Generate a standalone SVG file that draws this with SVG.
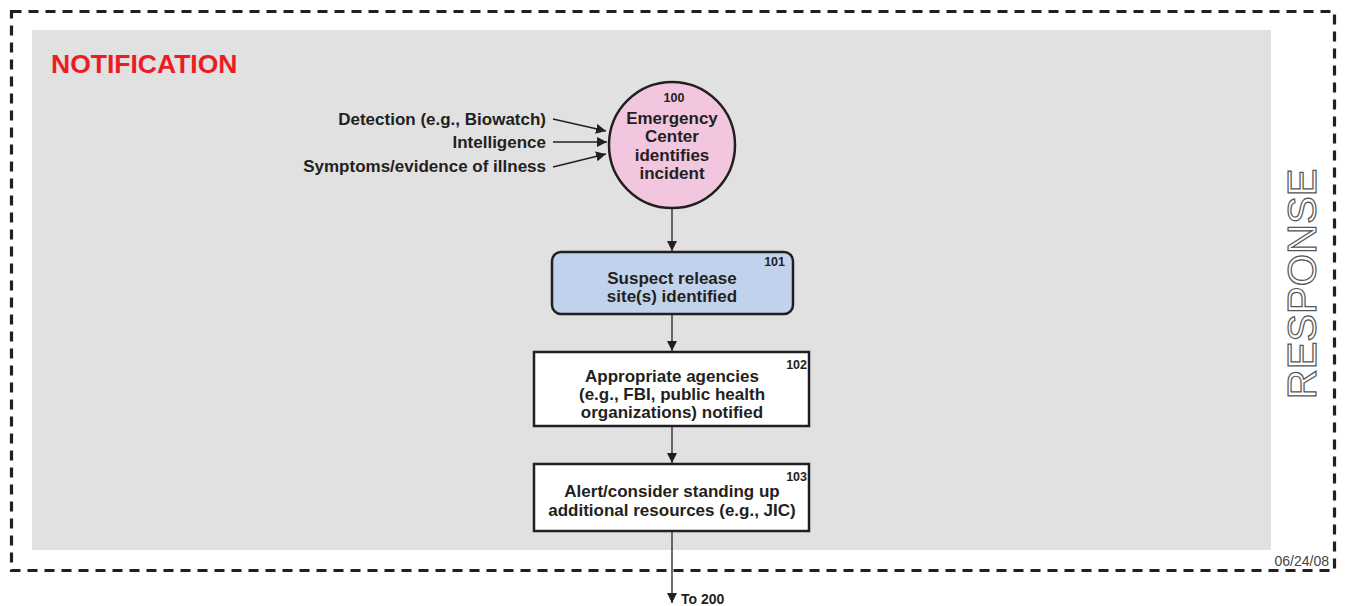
<svg xmlns="http://www.w3.org/2000/svg" width="1345" height="606" viewBox="0 0 1345 606">
<defs>
<marker id="ah" viewBox="0 0 10 10" refX="10" refY="5" markerWidth="10" markerHeight="10" markerUnits="userSpaceOnUse" orient="auto"><path d="M0,0 L10,5 L0,10 Z" fill="#231f20"/></marker>
<style>
.t{font-family:"Liberation Sans",Arial,sans-serif;font-weight:bold;fill:#231f20;font-size:17px}
.n{font-family:"Liberation Sans",Arial,sans-serif;font-weight:bold;fill:#231f20;font-size:12.5px}
.c{stroke:#231f20;stroke-width:1.3;fill:none}
.box{stroke:#231f20;stroke-width:2.5}
</style>
</defs>
<rect width="1345" height="606" fill="#fff"/>
<rect x="11.5" y="11.5" width="1323" height="559" fill="none" stroke="#231f20" stroke-width="3.2" stroke-dasharray="10,7"/>
<rect x="32" y="30" width="1239" height="520" fill="#e0e1e0"/>
<text x="51" y="73" font-family="Liberation Sans,Arial,sans-serif" font-weight="bold" font-size="26.5" fill="#ed1c24">NOTIFICATION</text>
<text transform="translate(1316,284) rotate(-90)" text-anchor="middle" font-family="Liberation Sans,Arial,sans-serif" font-size="41.5" fill="#fff" stroke="#555" stroke-width="1.2">RESPONSE</text>
<text x="1329" y="566" text-anchor="end" font-family="Liberation Sans,Arial,sans-serif" font-size="14" fill="#444">06/24/08</text>
<g id="connectors">
<line class="c" x1="553" y1="119" x2="606" y2="131" marker-end="url(#ah)"/>
<line class="c" x1="553" y1="142" x2="607" y2="142" marker-end="url(#ah)"/>
<line class="c" x1="553" y1="167" x2="606" y2="154" marker-end="url(#ah)"/>
<line class="c" x1="672" y1="208" x2="672" y2="251" marker-end="url(#ah)"/>
<line class="c" x1="672" y1="315" x2="672" y2="351" marker-end="url(#ah)"/>
<line class="c" x1="672" y1="427" x2="672" y2="463" marker-end="url(#ah)"/>
<line class="c" x1="672" y1="532" x2="672" y2="603" marker-end="url(#ah)"/>
</g>
<g id="inputs">
<text class="t" x="546" y="125" text-anchor="end">Detection (e.g., Biowatch)</text>
<text class="t" x="546" y="148" text-anchor="end">Intelligence</text>
<text class="t" x="546" y="172" text-anchor="end">Symptoms/evidence of illness</text>
</g>
<g id="n100">
<circle class="box" cx="672" cy="145" r="63" fill="#f2c6df"/>
<text class="n" x="674" y="102" text-anchor="middle">100</text>
<text class="t" x="672" y="124" text-anchor="middle">Emergency</text>
<text class="t" x="672" y="142" text-anchor="middle">Center</text>
<text class="t" x="672" y="161" text-anchor="middle">identifies</text>
<text class="t" x="672" y="179" text-anchor="middle">incident</text>
</g>
<g id="n101">
<rect class="box" x="552" y="252" width="241" height="62" rx="9" fill="#c1d3ec"/>
<text class="n" x="785" y="266" text-anchor="end">101</text>
<text class="t" x="672" y="284" text-anchor="middle">Suspect release</text>
<text class="t" x="672" y="302" text-anchor="middle">site(s) identified</text>
</g>
<g id="n102">
<rect class="box" x="534" y="352" width="275" height="74" fill="#fff"/>
<text class="n" x="807" y="369" text-anchor="end">102</text>
<text class="t" x="672" y="382" text-anchor="middle">Appropriate agencies</text>
<text class="t" x="672" y="400" text-anchor="middle">(e.g., FBI, public health</text>
<text class="t" x="672" y="418" text-anchor="middle">organizations) notified</text>
</g>
<g id="n103">
<rect class="box" x="534" y="464" width="275" height="67" fill="#fff"/>
<text class="n" x="807" y="481" text-anchor="end">103</text>
<text class="t" x="672" y="497" text-anchor="middle">Alert/consider standing up</text>
<text class="t" x="672" y="516" text-anchor="middle">additional resources (e.g., JIC)</text>
</g>
<text x="681" y="604" font-family="Liberation Sans,Arial,sans-serif" font-weight="bold" font-size="14" fill="#231f20">To 200</text>
</svg>
